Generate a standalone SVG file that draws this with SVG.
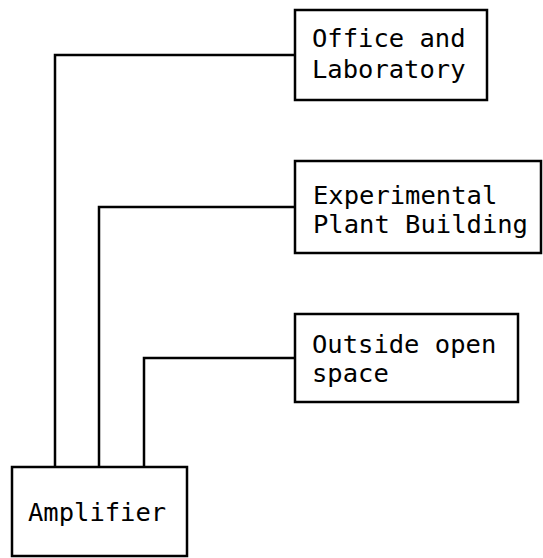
<svg xmlns="http://www.w3.org/2000/svg" width="543" height="558" viewBox="0 0 543 558">
<style>
.box{fill:#fff;stroke:#000;stroke-width:2.5}
.lbl{font-family:"DejaVu Sans Mono","Liberation Mono",monospace;font-size:25.5px;fill:#000}
.wire{fill:none;stroke:#000;stroke-width:2.5}
</style>
<rect width="543" height="558" fill="#fff"/>
<g id="connectors">
<polyline class="wire" points="55,467 55,55 295,55"/>
<polyline class="wire" points="99,467 99,207 295,207"/>
<polyline class="wire" points="144,467 144,358 295,358"/>
</g>
<g id="office">
<rect class="box" x="295" y="10" width="192" height="90"/>
<text class="lbl" x="312" y="47">Office and</text>
<text class="lbl" x="312" y="78">Laboratory</text>
</g>
<g id="plant">
<rect class="box" x="295" y="161" width="246" height="92"/>
<text class="lbl" x="313" y="204">Experimental</text>
<text class="lbl" x="313" y="233">Plant Building</text>
</g>
<g id="outside">
<rect class="box" x="295" y="314" width="223" height="88"/>
<text class="lbl" x="312" y="353">Outside open</text>
<text class="lbl" x="312" y="382">space</text>
</g>
<g id="amplifier">
<rect class="box" x="12" y="467" width="175" height="89"/>
<text class="lbl" x="28" y="521">Amplifier</text>
</g>
</svg>
